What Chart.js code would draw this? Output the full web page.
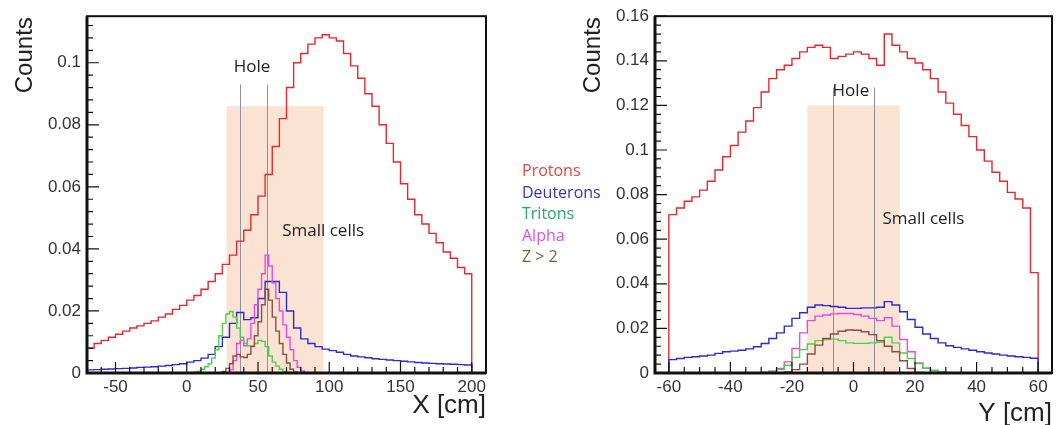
<!DOCTYPE html>
<html>
<head>
<meta charset="utf-8">
<script src="https://cdn.jsdelivr.net/npm/chart.js@4.4.1/dist/chart.umd.min.js"></script>
<style>
  body { margin: 0; background: #fff; width: 1056px; height: 425px; overflow: hidden; position: relative; }
  canvas { position: absolute; top: 0; }
  #left { left: 0; }
  #right { left: 560px; }
  #legend { position: absolute; left: 522px; top: 160px; font-family: "Open Sans", sans-serif; font-size: 16px; line-height: 21.5px; z-index: 2; }
</style>
</head>
<body>
<canvas id="left" width="500" height="425"></canvas>
<canvas id="right" width="496" height="425"></canvas>
<div id="legend"></div>
<script>
// species and colours
const species = ['Protons', 'Deuterons', 'Tritons', 'Alpha', 'Z > 2'];
const lineColors = ['#e8262e', '#2b2bd0', '#4ccf4c', '#e848e8', '#8a4f3e'];
const legendColors = ['#e0483f', '#3535b5', '#2aa868', '#e050e0', '#6e6540'];

// ---- X distribution (left panel), bin left edges ----
const xBinsCoarse = [-70, -65, -60, -55, -50, -45, -40, -35, -30, -25, -20, -15, -10, -5, 0, 5, 10, 15, 20, 25,
  30, 35, 40, 45, 50, 55, 60, 65, 70, 75, 80, 85, 90, 95, 100, 105, 110, 115, 120, 125,
  130, 135, 140, 145, 150, 155, 160, 165, 170, 175, 180, 185, 190, 195, 200];
const xBinsFine = [0, 2.5, 5, 7.5, 10, 12.5, 15, 17.5, 20, 22.5, 25, 27.5, 30, 32.5, 35, 37.5, 40, 42.5, 45, 47.5,
  50, 52.5, 55, 57.5, 60, 62.5, 65, 67.5, 70, 72.5, 75, 77.5, 80, 82.5, 85, 87.5, 90];

const protonsX = [0.008, 0.0095, 0.0105, 0.0115, 0.0125, 0.0135, 0.0145, 0.0152, 0.016, 0.0168,
  0.018, 0.019, 0.0205, 0.0218, 0.0235, 0.025, 0.027, 0.0295, 0.032, 0.035,
  0.038, 0.0425, 0.046, 0.051, 0.057, 0.064, 0.073, 0.082, 0.092, 0.1,
  0.103, 0.106, 0.108, 0.109, 0.108, 0.107, 0.103, 0.099, 0.095, 0.09,
  0.086, 0.08, 0.074, 0.068, 0.061, 0.056, 0.051, 0.048, 0.045, 0.042,
  0.039, 0.037, 0.034, 0.032, 0];
const deuteronsX = [0.001, 0.0011, 0.0012, 0.0013, 0.0014, 0.0015, 0.0016, 0.0018, 0.0019, 0.002,
  0.0022, 0.0024, 0.0027, 0.003, 0.0035, 0.004, 0.0048, 0.006, 0.0085, 0.0115,
  0.016, 0.0195, 0.0172, 0.0178, 0.024, 0.0295, 0.0295, 0.026, 0.02, 0.0145,
  0.011, 0.0095, 0.0085, 0.0077, 0.0072, 0.0067, 0.006, 0.0055, 0.0052, 0.0049,
  0.0046, 0.0044, 0.0042, 0.004, 0.0038, 0.0036, 0.0034, 0.0032, 0.0031, 0.003,
  0.0029, 0.0028, 0.0027, 0.0026, 0];
const tritonsX = [0, 0, 0.0003, 0.0006, 0.0012, 0.002, 0.003, 0.0048, 0.0075, 0.012,
  0.016, 0.019, 0.0198, 0.018, 0.0145, 0.0115, 0.0095, 0.0088, 0.0088, 0.0095,
  0.0105, 0.0102, 0.0085, 0.0055, 0.0035, 0.0022, 0.0012, 0.0005, 0.0002, 0,
  0, 0, 0, 0, 0, 0, 0];
const alphaX = [0, 0, 0, 0, 0, 0, 0, 0, 0, 0, 0, 0,
  0.001, 0.004, 0.0095, 0.0105, 0.0088, 0.011, 0.016, 0.022, 0.027, 0.032,
  0.038, 0.0345, 0.029, 0.024, 0.02, 0.0155, 0.0115, 0.0075, 0.004, 0.0018,
  0.0007, 0.0002, 0, 0, 0];
const heavyX = [0, 0, 0, 0, 0, 0, 0, 0, 0, 0,
  0.0005, 0.0015, 0.003, 0.0055, 0.006, 0.0052, 0.005, 0.006, 0.0085, 0.012,
  0.0165, 0.022, 0.027, 0.0235, 0.018, 0.0135, 0.0095, 0.006, 0.0032, 0.0012,
  0.0003, 0, 0, 0, 0, 0, 0];

// ---- Y distribution (right panel), bin left edges ----
const yBinsCoarse = [-62.5, -60, -57.5, -55, -52.5, -50, -47.5, -45, -42.5, -40, -37.5, -35, -32.5, -30, -27.5,
  -25, -22.5, -20, -17.5, -15, -12.5, -10, -7.5, -5, -2.5, 0, 2.5, 5, 7.5, 10, 12.5, 15, 17.5,
  20, 22.5, 25, 27.5, 30, 32.5, 35, 37.5, 40, 42.5, 45, 47.5, 50, 52.5, 55, 57.5, 60];
const yBinsFine = [-30, -27.5, -25, -22.5, -20, -17.5, -15, -12.5, -10, -7.5, -5, -2.5, 0,
  2.5, 5, 7.5, 10, 12.5, 15, 17.5, 20, 22.5, 25, 27.5, 30];

const protonsY = [0, 0.071, 0.074, 0.077, 0.079, 0.082, 0.086, 0.091, 0.097, 0.102, 0.108,
  0.113, 0.119, 0.126, 0.132, 0.136, 0.138, 0.141, 0.144, 0.146, 0.147,
  0.146, 0.141, 0.142, 0.143, 0.144, 0.143, 0.141, 0.138, 0.152, 0.147,
  0.144, 0.141, 0.139, 0.136, 0.132, 0.126, 0.121, 0.116, 0.111, 0.106,
  0.1, 0.095, 0.09, 0.086, 0.081, 0.078, 0.074, 0.045, 0];
const deuteronsY = [0, 0.006, 0.0065, 0.007, 0.0073, 0.0076, 0.008, 0.0088, 0.0095, 0.0098, 0.0102,
  0.0108, 0.0118, 0.0132, 0.0155, 0.018, 0.021, 0.0245, 0.027, 0.0295, 0.0305,
  0.0302, 0.0298, 0.0295, 0.029, 0.029, 0.0292, 0.0292, 0.0295, 0.032, 0.0305,
  0.0275, 0.024, 0.0205, 0.0175, 0.0155, 0.0135, 0.0122, 0.0115, 0.0108, 0.0102,
  0.0095, 0.009, 0.0085, 0.008, 0.0076, 0.0073, 0.007, 0.0066, 0];
const tritonsY = [0.0003, 0.0008, 0.0015, 0.0035, 0.007, 0.0105, 0.013, 0.0145, 0.015, 0.0152,
  0.0145, 0.0135, 0.0133, 0.0133, 0.0135, 0.0138, 0.016, 0.0135, 0.009, 0.0065,
  0.0042, 0.0022, 0.0012, 0.0005, 0];
const alphaY = [0.0003, 0.0008, 0.002, 0.005, 0.011, 0.018, 0.0235, 0.0255, 0.026, 0.0265,
  0.0267, 0.0267, 0.0262, 0.0255, 0.0245, 0.0235, 0.0248, 0.021, 0.015, 0.0095,
  0.0045, 0.0022, 0.001, 0.0004, 0];
const heavyY = [0, 0, 0, 0.0005, 0.0015, 0.004, 0.0085, 0.0125, 0.0155, 0.0175,
  0.0187, 0.0193, 0.0192, 0.0185, 0.0172, 0.0145, 0.012, 0.0095, 0.0055, 0.002,
  0.0003, 0, 0, 0, 0];

Chart.defaults.font.family = '"Liberation Sans", Arial, sans-serif';
Chart.defaults.color = '#333';

const toPoints = (xs, ys) => xs.map((x, i) => ({ x: x, y: ys[i] }));

// each value holds from its own bin edge up to the next one
function histo(label, xs, ys, color) {
  return {
    label: label,
    data: toPoints(xs, ys),
    borderColor: color,
    borderWidth: 1.4,
    stepped: 'before',
    pointRadius: 0,
    fill: false
  };
}

// run fn over every multiple of step inside the scale range
function eachStep(scale, step, fn) {
  const n0 = Math.ceil(scale.min / step - 1e-9);
  const n1 = Math.floor(scale.max / step + 1e-9);
  for (let n = n0; n <= n1; n++) fn(scale.getPixelForValue(n * step));
}

// shaded "small cells" box, hole lines, inward ticks, frame, titles
const decor = {
  id: 'decor',
  beforeDatasetsDraw(chart, args, o) {
    const { ctx, chartArea: a, scales: { x, y } } = chart;
    ctx.save();
    const x0 = x.getPixelForValue(o.shade[0]);
    const x1 = x.getPixelForValue(o.shade[1]);
    const yt = y.getPixelForValue(o.shade[2]);
    ctx.fillStyle = '#fbe3d4';
    ctx.fillRect(x0, yt, x1 - x0, a.bottom - yt);
    ctx.strokeStyle = '#8d90a3';
    ctx.lineWidth = 1;
    o.holes.forEach(h => {
      const px = Math.round(x.getPixelForValue(h)) + 0.5;
      ctx.beginPath();
      ctx.moveTo(px, y.getPixelForValue(o.holeTop));
      ctx.lineTo(px, a.bottom);
      ctx.stroke();
    });
    ctx.restore();
  },
  afterDraw(chart, args, o) {
    const { ctx, chartArea: a, scales: { x, y } } = chart;
    ctx.save();
    ctx.strokeStyle = '#111';
    ctx.lineWidth = 1.2;
    ctx.beginPath();
    eachStep(y, o.yMinor, py => { ctx.moveTo(a.left, py); ctx.lineTo(a.left + 6, py); });
    eachStep(y, o.yMajor, py => { ctx.moveTo(a.left, py); ctx.lineTo(a.left + 12, py); });
    eachStep(x, o.xMinor, px => { ctx.moveTo(px, a.bottom); ctx.lineTo(px, a.bottom - 6); });
    eachStep(x, o.xMajor, px => { ctx.moveTo(px, a.bottom); ctx.lineTo(px, a.bottom - 11); });
    ctx.stroke();

    // frame
    ctx.lineWidth = 2;
    ctx.strokeRect(a.left, a.top, a.right - a.left, a.bottom - a.top);
    ctx.lineWidth = 3;
    ctx.beginPath();
    ctx.moveTo(a.left, a.top);
    ctx.lineTo(a.left, a.bottom);
    ctx.lineTo(a.right, a.bottom);
    ctx.stroke();

    // axis titles
    ctx.fillStyle = '#222';
    ctx.font = '24px "Liberation Sans", Arial, sans-serif';
    ctx.save();
    ctx.translate(o.countsX, a.top + 1);
    ctx.rotate(-Math.PI / 2);
    ctx.textAlign = 'right';
    ctx.textBaseline = 'middle';
    ctx.fillText('Counts', 0, 0);
    ctx.restore();
    ctx.font = '26px "Liberation Sans", Arial, sans-serif';
    ctx.textAlign = 'right';
    ctx.textBaseline = 'alphabetic';
    ctx.fillText(o.xTitle, a.right, o.xTitleY);

    // annotations
    ctx.font = '17px "Open Sans", sans-serif';
    ctx.textAlign = 'left';
    ctx.fillText('Hole', x.getPixelForValue(o.holeText[0]), y.getPixelForValue(o.holeText[1]));
    ctx.fillText('Small cells', x.getPixelForValue(o.cellsText[0]), y.getPixelForValue(o.cellsText[1]));
    ctx.restore();
  }
};

function makeChart(id, datasets, xr, yr, yAxisWidth, pad, deco) {
  return new Chart(document.getElementById(id), {
    type: 'line',
    data: { datasets: datasets },
    options: {
      responsive: false,
      animation: false,
      layout: { padding: pad },
      plugins: { legend: { display: false }, tooltip: { enabled: false }, decor: deco },
      scales: {
        x: {
          type: 'linear', min: xr.min, max: xr.max,
          grid: { display: false, drawTicks: false }, border: { display: false },
          ticks: { stepSize: xr.step, includeBounds: false, padding: 4, font: { size: 17 }, maxRotation: 0 },
          afterFit: s => { s.height = 52; }
        },
        y: {
          min: yr.min, max: yr.max,
          grid: { display: false, drawTicks: false }, border: { display: false },
          ticks: { stepSize: yr.step, includeBounds: false, padding: 6, font: { size: 17 },
            callback: v => String(+v.toFixed(3)) },
          afterFit: s => { s.width = yAxisWidth; }
        }
      }
    },
    plugins: [decor]
  });
}

makeChart('left', [
  histo(species[4], xBinsFine, heavyX, lineColors[4]),
  histo(species[2], xBinsFine, tritonsX, lineColors[2]),
  histo(species[3], xBinsFine, alphaX, lineColors[3]),
  histo(species[1], xBinsCoarse, deuteronsX, lineColors[1]),
  histo(species[0], xBinsCoarse, protonsX, lineColors[0])
], { min: -70, max: 210, step: 50 }, { min: 0, max: 0.115, step: 0.02 }, 87,
  { top: 16, right: 14, left: 0, bottom: 0 },
  { shade: [28, 96, 0.086], holes: [37.3, 56], holeTop: 0.093, xMinor: 10, xMajor: 50, yMinor: 0.004, yMajor: 0.02,
    countsX: 25, xTitle: 'X [cm]', xTitleY: 413, holeText: [33, 0.097], cellsText: [67, 0.0442] });

makeChart('right', [
  histo(species[4], yBinsFine, heavyY, lineColors[4]),
  histo(species[2], yBinsFine, tritonsY, lineColors[2]),
  histo(species[3], yBinsFine, alphaY, lineColors[3]),
  histo(species[1], yBinsCoarse, deuteronsY, lineColors[1]),
  histo(species[0], yBinsCoarse, protonsY, lineColors[0])
], { min: -64.5, max: 64.5, step: 20 }, { min: 0, max: 0.16, step: 0.02 }, 95,
  { top: 16, right: 4, left: 0, bottom: 0 },
  { shade: [-15, 15, 0.12], holes: [-6.8, 6.5], holeTop: 0.128, xMinor: 5, xMajor: 20, yMinor: 0.004, yMajor: 0.02,
    countsX: 33, xTitle: 'Y [cm]', xTitleY: 421, holeText: [-6.8, 0.124], cellsText: [9.4, 0.0668] });

// legend between the panels
const legend = document.getElementById('legend');
species.forEach((name, i) => {
  const row = document.createElement('div');
  row.textContent = name;
  row.style.color = legendColors[i];
  legend.appendChild(row);
});
</script>
</body>
</html>
